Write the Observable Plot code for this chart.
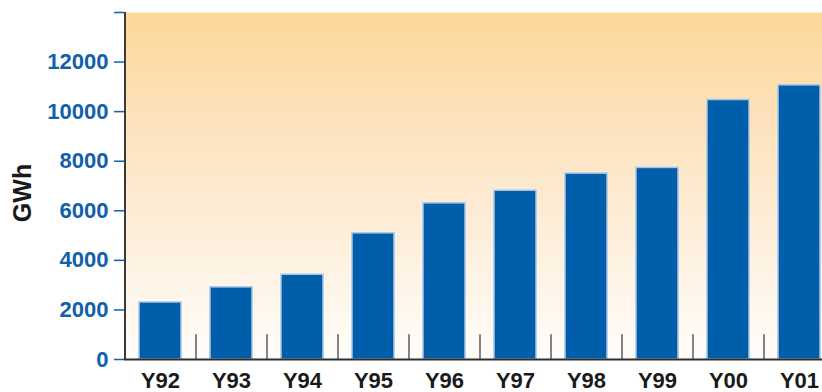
<!DOCTYPE html>
<html>
<head>
<meta charset="utf-8">
<script src="https://cdn.jsdelivr.net/npm/d3@7"></script>
<script src="https://cdn.jsdelivr.net/npm/@observablehq/plot@0.6"></script>
<style>
  html, body { margin: 0; padding: 0; background: #ffffff; overflow: hidden; }
  #chart svg { display: block; }
</style>
</head>
<body>
<div id="chart"></div>
<script>
const years = ["Y92", "Y93", "Y94", "Y95", "Y96", "Y97", "Y98", "Y99", "Y00", "Y01"];
const gwh = [2300, 2910, 3420, 5090, 6300, 6810, 7500, 7730, 10470, 11060];
const yTicks = [0, 2000, 4000, 6000, 8000, 10000, 12000, 14000];
const yLabel = "GWh";

const data = years.map((year, i) => ({year, value: gwh[i]}));

const W = 822, H = 392;
const mL = 124, mR = -12, mT = 12, mB = 33;
const step = (W - mL - mR) / years.length;

const font = "Liberation Sans, Arial, Helvetica, sans-serif";
const blue = "#1060ad";

const plot = Plot.plot({
  width: W,
  height: H,
  marginLeft: mL,
  marginRight: mR,
  marginTop: mT,
  marginBottom: mB,
  style: {fontFamily: font, background: "transparent", overflow: "visible"},
  x: {domain: years, paddingInner: 0.41, paddingOuter: 0.205, label: null},
  y: {domain: [0, 14000], label: null},
  marks: [
    Plot.frame({fill: "url(#bgGrad)", stroke: "none"}),
    Plot.barY(data, {x: "year", y: "value", fill: "#005eab", stroke: "#a6c6e6", strokeWidth: 1.5}),
    Plot.ruleX(years.slice(1), {x: d => d, dx: -step / 2, y1: 0, y2: 1000, stroke: "#333333", strokeWidth: 1.2}),
    Plot.ruleX(years.slice(0, 1), {x: d => d, dx: -step / 2, y1: 0, y2: 14000, stroke: "#3a3a3a", strokeWidth: 2}),
    Plot.ruleY([0], {stroke: "#2e2e2e", strokeWidth: 2}),
    Plot.axisY({
      ticks: yTicks,
      tickSize: 10,
      tickPadding: 6,
      tickFormat: d => d === 14000 ? "" : String(d),
      stroke: blue,
      fill: blue,
      strokeWidth: 1.5,
      fontSize: 22,
      fontWeight: "bold",
      label: null
    }),
    Plot.axisX({
      tickSize: 0,
      tickPadding: 13,
      fill: "#1a1a1a",
      fontSize: 22,
      fontWeight: "bold",
      label: null
    }),
    Plot.text([yLabel], {
      frameAnchor: "left",
      textAnchor: "middle",
      text: d => d,
      rotate: -90,
      dx: -102,
      dy: 7,
      fontSize: 25,
      fontWeight: "bold",
      fill: "#1a1a1a"
    })
  ]
});

plot.insertAdjacentHTML("afterbegin",
  `<defs><linearGradient id="bgGrad" x1="0" y1="0" x2="0" y2="1">
     <stop offset="0%" stop-color="#fdd79b"/>
     <stop offset="50%" stop-color="#fde9cf"/>
     <stop offset="100%" stop-color="#fffdfa"/>
   </linearGradient></defs>`);

document.getElementById("chart").appendChild(plot);
</script>
</body>
</html>
